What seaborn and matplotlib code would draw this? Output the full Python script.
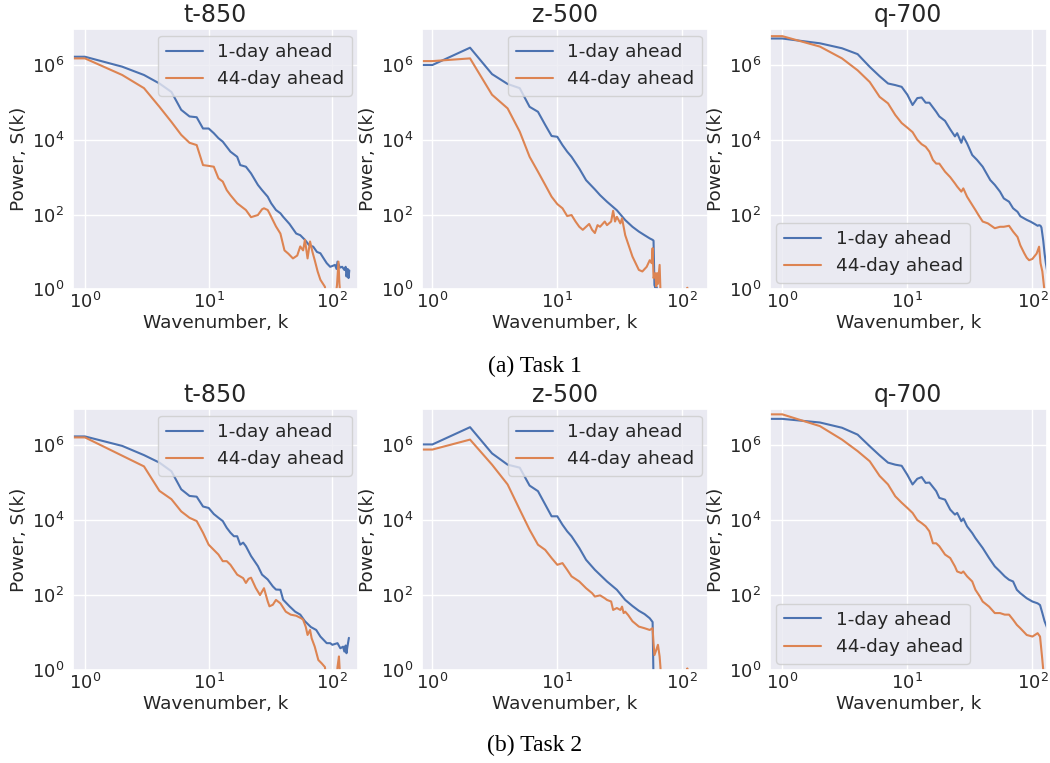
import numpy as np
import pandas as pd
import seaborn as sns
import matplotlib.pyplot as plt

sns.set_theme(style="darkgrid")
plt.rcParams['font.family'] = ['DejaVu Sans']

variables = ["t-850", "z-500", "q-700"]
series_names = ["1-day ahead", "44-day ahead"]
captions = ["(a) Task 1", "(b) Task 2"]

# ---------------- Task 1 ----------------
t850_t1_day1_k = [0, 1, 2, 3, 4, 5, 6, 7, 8, 9, 10, 11, 12, 13, 15, 17, 18, 20, 22, 25, 27, 30, 32, 35, 38, 40, 45,
                  51, 55, 60, 65, 70, 75, 80, 85, 90, 96, 100, 105, 108, 110, 115, 120, 125, 128, 130, 133, 135, 137]
t850_t1_day1_s = [1.66e6, 1.66e6, 9e5, 5.4e5, 3.2e5, 1.9e5, 6.3e4, 4.2e4, 4e4, 2e4, 2e4, 1.5e4, 1.1e4, 8.9e3, 4.8e3,
                  3.5e3, 2.1e3, 1.9e3, 1.26e3, 620, 450, 300, 200, 132, 108, 87, 56, 31, 28, 21, 15, 13.8, 10, 9.2,
                  6.7, 5, 4, 4.2, 4.5, 3.5, 5.5, 3.8, 4, 3.3, 4, 2.2, 3.5, 2, 3.2]
t850_t1_day44_k = [0, 1, 2, 3, 4, 5, 6, 7, 8, 9, 10, 11, 12, 13, 14, 15, 17, 20, 22, 25, 27, 28, 30, 31, 33, 35,
                   38, 41, 44, 48, 52, 55, 58, 60, 63, 66, 69, 72, 76, 80, 87, 90, 105, 109, 112, 114, 117]
t850_t1_day44_s = [1.5e6, 1.5e6, 5.4e5, 2.4e5, 7.6e4, 3e4, 1.35e4, 8.3e3, 7.2e3, 2.1e3, 2e3, 1.9e3, 930, 760, 450,
                   330, 200, 132, 85, 97, 138, 147, 132, 108, 71, 48, 31, 11, 9, 6.7, 8, 14, 11, 21, 6.7, 19, 10,
                   6, 3, 1.8, 1.17, 0.5, 0.5, 1.3, 5.5, 1.4, 0.5]

z500_t1_day1_k = [0, 1, 2, 3, 4, 5, 6, 7, 8, 9, 10, 11, 12, 13, 15, 17, 20, 22, 25, 30, 35, 40, 45, 50, 55, 58, 59,
                  60, 61, 62, 63, 64, 65]
z500_t1_day1_s = [1e6, 1e6, 2.9e6, 5.7e5, 3.1e5, 2.4e5, 7.6e4, 5.6e4, 2.5e4, 1.26e4, 1.2e4, 7.2e3, 4.8e3, 3.5e3,
                  1.7e3, 830, 470, 330, 220, 130, 71, 47, 35, 28, 23, 21, 20, 1.3, 1.1, 1.2, 1.05, 0.9, 0.5]
z500_t1_day44_k = [0, 1, 2, 3, 4, 5, 6, 7, 8, 9, 10, 11, 12, 13, 14, 15, 16, 17, 18, 19, 20, 21, 22, 24, 25, 27, 28,
                   29, 30, 32, 33, 35, 40, 45, 48, 52, 55, 57, 58, 59, 61, 62, 63, 64, 66, 67, 68, 109, 110, 111]
z500_t1_day44_s = [1.27e6, 1.27e6, 1.5e6, 1.6e5, 6.9e4, 1.65e4, 3.5e3, 1.4e3, 620, 300, 190, 147, 91, 97, 65, 47,
                   39, 47, 56, 39, 32, 52, 47, 65, 52, 65, 126, 65, 87, 58, 79, 28, 7.5, 3.3, 3, 4, 6, 5, 12.6, 2,
                   2.7, 1.2, 2.7, 1.4, 4.5, 0.96, 0.5, 0.5, 1.1, 0.5]

q700_t1_day1_k = [0, 1, 2, 3, 4, 5, 6, 7, 8, 9, 10, 11, 12, 13, 14, 15, 17, 18, 20, 22, 24, 25, 27, 28, 30, 33, 36,
                  40, 46, 50, 55, 59, 65, 70, 76, 80, 90, 97, 105, 110, 113, 116, 118, 122, 125, 128, 132]
q700_t1_day1_s = [5.1e6, 5.1e6, 3.8e6, 2.8e6, 1.95e6, 8.9e5, 5e5, 3.2e5, 2.9e5, 2.6e5, 1.6e5, 8.5e4, 1.3e5, 1.35e5,
                  9.8e4, 9.8e4, 5.6e4, 4.2e4, 3.2e4, 1.9e4, 1.23e4, 1.5e4, 8.3e3, 1.23e4, 8e3, 3.9e3, 2.9e3, 1.9e3,
                  835, 620, 410, 270, 220, 147, 118, 90, 72, 64, 55, 50, 52, 50, 45, 20, 9, 5, 2.7]
q700_t1_day44_k = [0, 1, 2, 3, 4, 5, 6, 7, 8, 9, 10, 11, 12, 13, 14, 15, 16, 17, 18, 20, 22, 24, 25, 27, 28, 30, 33,
                   35, 37, 40, 44, 50, 55, 59, 65, 70, 76, 80, 86, 90, 94, 100, 103, 108, 113, 116, 120, 124, 126]
q700_t1_day44_s = [5.9e6, 5.9e6, 3.1e6, 1.5e6, 7.2e5, 3.5e5, 1.4e5, 9.4e4, 4.6e4, 2.8e4, 2.1e4, 1.6e4, 1e4, 7.6e3,
                   6.5e3, 4.8e3, 2.9e3, 2.3e3, 2.3e3, 1.4e3, 1e3, 680, 560, 410, 500, 300, 180, 132, 97, 65, 58, 43,
                   47, 47, 50, 35, 25, 15, 9.2, 7, 6, 6.5, 7.4, 9, 13.8, 5, 3, 1.1, 0.6]

# ---------------- Task 2 ----------------
t850_t2_day1_k = [0, 1, 2, 3, 4, 5, 6, 7, 8, 9, 10, 11, 12, 13, 14, 15, 16, 17, 18, 19, 20, 22, 25, 27, 30, 33, 35,
                  38, 40, 45, 50, 55, 60, 67, 74, 80, 90, 96, 100, 110, 116, 122, 125, 128, 130, 132, 136]
t850_t2_day1_s = [1.7e6, 1.7e6, 9.5e5, 5.4e5, 3.4e5, 2e5, 6.6e4, 4.4e4, 4.2e4, 2.3e4, 2.1e4, 1.45e4, 1.15e4, 9.4e3,
                  6.2e3, 4.6e3, 3.7e3, 3.7e3, 2.2e3, 2.5e3, 2e3, 1.1e3, 590, 350, 260, 170, 140, 138, 75, 50, 36,
                  30, 20, 14, 11.7, 7.8, 5.2, 5.2, 4.7, 5.2, 3.8, 4.2, 3.1, 4.5, 2.8, 4, 7.2]
t850_t2_day44_k = [0, 1, 3, 4, 5, 6, 7, 8, 9, 10, 11, 12, 13, 14, 15, 17, 19, 20, 21, 22, 24, 26, 28, 30, 31, 33,
                   35, 38, 42, 46, 51, 56, 58, 61, 63, 66, 68, 72, 77, 82, 87, 90, 108, 110, 113, 116]
t850_t2_day44_s = [1.6e6, 1.6e6, 2.7e5, 6e4, 3.6e4, 1.7e4, 1.15e4, 9.4e3, 4.6e3, 2.2e3, 1.6e3, 1.2e3, 800, 800, 640,
                   350, 282, 210, 270, 290, 155, 100, 152, 68, 50, 55, 74, 60, 36, 30, 28, 24, 22, 14, 8.6, 11.7, 7,
                   4.2, 1.85, 1.5, 1.2, 0.5, 0.5, 1.2, 2.3, 0.5]

z500_t2_day1_k = [0, 1, 2, 3, 4, 5, 6, 7, 8, 9, 10, 11, 12, 13, 15, 17, 20, 25, 30, 35, 40, 45, 50, 55, 58, 59]
z500_t2_day1_s = [1.04e6, 1.04e6, 3e6, 6e5, 3e5, 2.5e5, 8.3e4, 5.9e4, 2.6e4, 1.26e4, 1.26e4, 7.5e3, 5e3, 3.7e3,
                  1.8e3, 870, 470, 230, 138, 74, 51, 38, 31, 24, 19, 0.5]
z500_t2_day44_k = [0, 1, 2, 3, 4, 5, 6, 7, 8, 9, 10, 11, 12, 13, 15, 17, 19, 20, 22, 24, 25, 27, 28, 30, 32, 33, 34,
                   35, 37, 40, 45, 50, 55, 58, 59, 60, 62, 64, 66, 67, 68, 109, 110, 111]
z500_t2_day44_s = [7.6e5, 7.6e5, 1.4e6, 3e5, 8.9e4, 1.9e4, 5.5e3, 2.2e3, 1.6e3, 970, 640, 710, 470, 315, 230, 152,
                   112, 91, 98, 82, 74, 67, 40, 45, 40, 49, 33, 36, 29, 20, 14.4, 13, 11.7, 13, 5.2, 2.5, 3.4, 4.7,
                   2.3, 1.2, 0.5, 0.5, 1.1, 0.5]

q700_t2_day1_k = [0, 1, 2, 3, 4, 5, 6, 7, 8, 9, 10, 11, 12, 13, 14, 15, 17, 18, 20, 22, 24, 25, 27, 28, 30, 33, 35,
                  40, 45, 50, 55, 60, 65, 70, 75, 80, 90, 100, 110, 115, 120, 125, 130, 133]
q700_t2_day1_s = [5e6, 5e6, 4e6, 2.9e6, 1.9e6, 9.3e5, 5.3e5, 3.4e5, 3e5, 2.8e5, 1.6e5, 8.9e4, 1.26e5, 1.4e5, 9.8e4,
                  1e5, 5.9e4, 3.9e4, 3.5e4, 1.9e4, 1.4e4, 1.55e4, 9.3e3, 1.1e4, 6.8e3, 4.5e3, 3.3e3, 1.8e3, 970,
                  580, 425, 315, 255, 230, 138, 112, 82, 67, 60, 54, 33, 20, 14.4, 11.7]
q700_t2_day44_k = [0, 1, 2, 3, 4, 5, 6, 7, 8, 9, 10, 11, 12, 13, 14, 15, 16, 17, 18, 20, 22, 24, 25, 27, 28, 30, 33,
                   35, 38, 40, 45, 50, 55, 60, 65, 70, 75, 80, 90, 100, 110, 115, 120, 122, 124]
q700_t2_day44_s = [6.6e6, 6.6e6, 3.2e6, 1.4e6, 6.9e5, 3.7e5, 1.5e5, 8.9e4, 4.3e4, 2.9e4, 2.1e4, 1.55e4, 1e4, 8.3e3,
                   6.8e3, 5e3, 2.4e3, 2.4e3, 2e3, 1.2e3, 970, 580, 425, 385, 425, 315, 230, 138, 91, 67, 49, 33, 33,
                   30, 30, 22, 16, 13, 8.6, 7.8, 9.6, 7.8, 1.85, 1.0, 0.5]

tasks = [
    [(t850_t1_day1_k, t850_t1_day1_s, t850_t1_day44_k, t850_t1_day44_s),
     (z500_t1_day1_k, z500_t1_day1_s, z500_t1_day44_k, z500_t1_day44_s),
     (q700_t1_day1_k, q700_t1_day1_s, q700_t1_day44_k, q700_t1_day44_s)],
    [(t850_t2_day1_k, t850_t2_day1_s, t850_t2_day44_k, t850_t2_day44_s),
     (z500_t2_day1_k, z500_t2_day1_s, z500_t2_day44_k, z500_t2_day44_s),
     (q700_t2_day1_k, q700_t2_day1_s, q700_t2_day44_k, q700_t2_day44_s)],
]

W, H = 1050, 763
fig = plt.figure(figsize=(W / 100, H / 100), dpi=100)

col_px = [(72.7, 358.3), (421.7, 708.3), (770.0, 1046.7)]
row_px = [(29.3, 289.3), (409.3, 670.0)]
xlims = [(0.796, 162), (0.82, 162), (0.797, 130)]
legend_locs = ["upper right", "upper right", "lower left"]
caption_y = [366, 745]
palette = sns.color_palette("deep")[:2]

for r in range(2):
    for c in range(3):
        x0, x1 = col_px[c]
        y0, y1 = row_px[r]
        aw, ah = x1 - x0, y1 - y0
        ax = fig.add_axes([x0 / W, 1 - y1 / H, aw / W, ah / H])
        k1, s1, k44, s44 = tasks[r][c]
        df = pd.concat([
            pd.DataFrame({"k": k1, "S": s1, "series": series_names[0]}),
            pd.DataFrame({"k": k44, "S": s44, "series": series_names[1]}),
        ], ignore_index=True)
        sns.lineplot(data=df, x="k", y="S", hue="series", hue_order=series_names,
                     palette=palette, ax=ax, linewidth=1.5, estimator=None, sort=True)
        ax.set_xscale("log")
        ax.set_yscale("log")
        ax.set_xlim(*xlims[c])
        ax.set_ylim(1, 9e6)
        ax.set_yticks([1e0, 1e2, 1e4, 1e6])
        ax.set_xticks([1e0, 1e1, 1e2])
        ax.minorticks_off()
        ax.tick_params(axis="both", length=0, labelsize=13)
        ax.tick_params(axis="y", pad=6.3)
        ax.tick_params(axis="x", pad=2)
        ax.set_xlabel("Wavenumber, k", fontsize=13.3)
        ax.set_ylabel("Power, S(k)", fontsize=13.3)
        ax.yaxis.set_label_coords(-44.7 / aw, 0.5)
        ax.xaxis.set_label_coords(0.5, -25 / ah)
        ax.set_title(variables[c], fontsize=17, pad=5)
        handles, labels = ax.get_legend_handles_labels()
        ax.legend(handles, labels, loc=legend_locs[c], fontsize=13.3,
                  borderaxespad=0.35)
    fig.text(535 / W, 1 - caption_y[r] / H, captions[r], ha="center", va="center",
             family="Liberation Serif", fontsize=17, color="black")

fig.savefig("out.png", dpi=100)
